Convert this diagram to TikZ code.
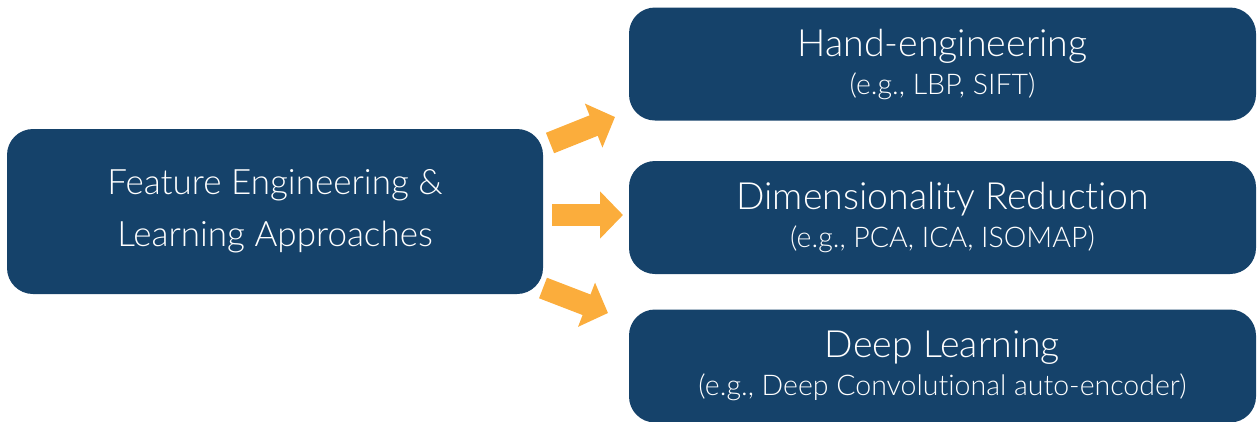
\documentclass[tikz,border=0pt]{standalone}
\usepackage{fontspec}
\setmainfont{Lato Light}[Ligatures={NoCommon}]
\usetikzlibrary{arrows.meta}
\definecolor{boxblue}{HTML}{15426A}
\definecolor{arroworange}{HTML}{FBAD3C}
\tikzset{
  box/.style={rectangle, rounded corners=26pt, fill=boxblue, text=white, align=center, inner sep=0pt},
  leftbox/.style={box, minimum width=536pt, minimum height=165pt, font=\fontsize{35}{52}\selectfont},
  rightbox/.style={box, minimum width=627pt, minimum height=113pt, font=\fontsize{37.5}{40}\selectfont},
  blockarrow/.style={draw=arroworange, line width=22pt, -{Triangle[length=23pt, width=46pt]}, arroworange}
}
\newcommand{\subline}[1]{{\fontsize{28.5}{30}\selectfont #1}}
\begin{document}
\begin{tikzpicture}[x=1pt, y=1pt]
\useasboundingbox (0,0) rectangle (1258,-421);
\node[leftbox] (fe) at (275,-211.5) {Feature Engineering \&\\Learning Approaches};
\node[rightbox] (he) at (942.5,-64) {Hand-engineering\\[-2pt]\subline{(e.g., LBP, SIFT)}};
\node[rightbox] (dr) at (942.5,-217.5) {Dimensionality Reduction\\[-2pt]\subline{(e.g., PCA, ICA, ISOMAP)}};
\node[rightbox] (dl) at (942.5,-366) {Deep Learning\\[-2pt]\subline{(e.g., Deep Convolutional auto-encoder)}};
\coordinate (a1s) at (550,-143);
\coordinate (a1e) at (615,-117);
\coordinate (a2s) at (552,-215);
\coordinate (a2e) at (623,-215);
\coordinate (a3s) at (543,-288);
\coordinate (a3e) at (608,-313);
\draw[blockarrow] (a1s) -- (a1e);
\draw[blockarrow] (a2s) -- (a2e);
\draw[blockarrow] (a3s) -- (a3e);
\end{tikzpicture}
\end{document}
